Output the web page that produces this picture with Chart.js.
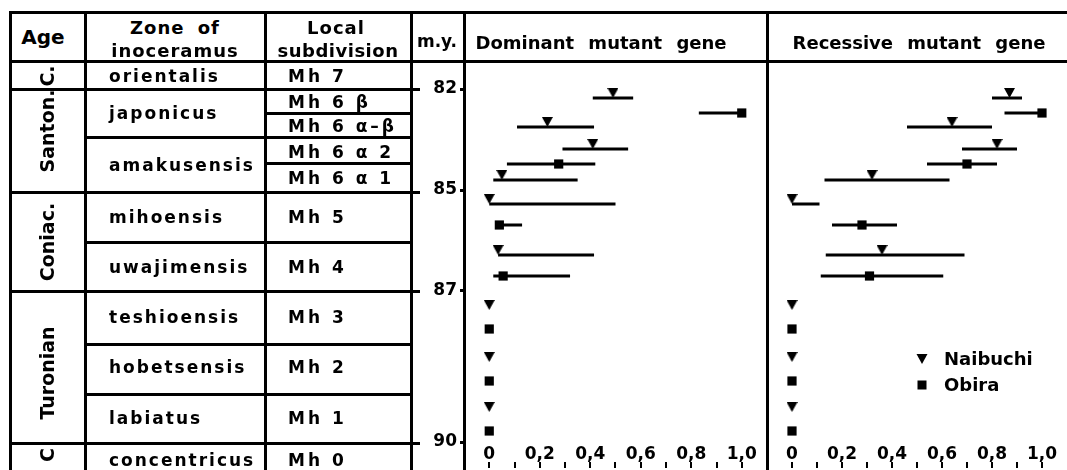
<!DOCTYPE html>
<html lang="en">
<head>
<meta charset="UTF-8" />
<title>Dominant and recessive mutant genes</title>
<script src="https://cdn.jsdelivr.net/npm/chart.js@4.4.0/dist/chart.umd.min.js"></script>
<style>
  body {
    margin: 0;
    width: 1067px;
    height: 470px;
    overflow: hidden;
    position: relative;
    background: #fff;
    color: #000;
    font-family: 'DejaVu Sans', sans-serif;
    font-weight: bold;
  }
  .ln { position: absolute; background: #000; }
  .tx { position: absolute; white-space: nowrap; font-size: 17px; line-height: 1; }
  .wrap { position: absolute; }
</style>
</head>
<body>
<div class="wrap" style="left:411px;top:62px;width:356px;height:408px">
  <canvas id="dominant" width="356" height="408"></canvas>
</div>
<div class="wrap" style="left:767px;top:62px;width:300px;height:408px">
  <canvas id="recessive" width="300" height="408"></canvas>
</div>
<script>
// stratigraphy column text
const ageNames = ['C.', 'Santon.', 'Coniac.', 'Turonian', 'C'];
const zoneNames = ['orientalis', 'japonicus', 'amakusensis', 'mihoensis', 'uwajimensis',
  'teshioensis', 'hobetsensis', 'labiatus', 'concentricus'];
const subdivisions = ['Mh 7', 'Mh 6 β', 'Mh 6 α–β', 'Mh 6 α 2', 'Mh 6 α 1', 'Mh 5',
  'Mh 4', 'Mh 3', 'Mh 2', 'Mh 1', 'Mh 0'];

// m.y. ticks and their level in the section (0 = top of column)
const myTicks = [82, 85, 87, 90];
const myTickLevel = [2.7, 12.8, 22.9, 38.0];

// sampled horizons
const naibuchiLevel = [3.6, 6.5, 8.7, 11.8, 14.2, 19.3, 24.8, 30.0, 35.0];
const obiraLevel = [5.1, 10.2, 16.3, 21.4, 26.7, 31.9, 36.9];

// dominant mutant gene frequency
const domNaibuchi = [0.49, 0.23, 0.41, 0.05, 0.0, 0.035, 0, 0, 0];
const domNaibuchiLo = [0.41, 0.11, 0.29, 0.016, 0.0, 0.035, null, null, null];
const domNaibuchiHi = [0.57, 0.415, 0.55, 0.35, 0.5, 0.415, null, null, null];
const domObira = [1.0, 0.275, 0.04, 0.055, 0, 0, 0];
const domObiraLo = [0.83, 0.07, 0.04, 0.016, null, null, null];
const domObiraHi = [1.0, 0.42, 0.13, 0.32, null, null, null];

// recessive mutant gene frequency
const recNaibuchi = [0.87, 0.64, 0.82, 0.32, 0.0, 0.36, 0, 0, 0];
const recNaibuchiLo = [0.8, 0.46, 0.68, 0.13, 0.0, 0.135, null, null, null];
const recNaibuchiHi = [0.92, 0.8, 0.9, 0.63, 0.11, 0.69, null, null, null];
const recObira = [1.0, 0.7, 0.28, 0.31, 0, 0, 0];
const recObiraLo = [0.85, 0.54, 0.16, 0.115, null, null, null];
const recObiraHi = [1.0, 0.82, 0.42, 0.605, null, null, null];

const freqTicks = [0, 0.2, 0.4, 0.6, 0.8, 1.0];

// ---- table frame (html) ----
const vLines = [[10, 12, 470], [85, 12, 470], [265, 12, 470], [411, 12, 470], [464, 12, 470], [767, 12, 470]];
const hLines = [[12, 10, 1067], [61, 10, 1067], [89, 10, 418], [192, 10, 418], [291, 10, 418], [443, 10, 418],
  [137, 85, 411], [242, 85, 411], [344, 85, 411], [394, 85, 411], [113, 265, 411], [163, 265, 411]];

function addDiv(cls, css, text) {
  const d = document.createElement('div')
  d.className = cls
  d.style.cssText = css
  if (text !== undefined) d.textContent = text
  document.body.appendChild(d)
}
vLines.forEach(([x, y0, y1]) => addDiv('ln', `left:${x - 1.5}px;top:${y0 - 1.5}px;width:3px;height:${y1 - y0 + 3}px`))
hLines.forEach(([y, x0, x1]) => addDiv('ln', `left:${x0 - 1.5}px;top:${y - 1.5}px;width:${x1 - x0 + 3}px;height:3px`))

const center = 'transform:translate(-50%,-50%)'
const leftMid = 'transform:translate(0,-50%)'
addDiv('tx', `left:43px;top:37px;${center};font-size:20px`, 'Age')
addDiv('tx', `left:175px;top:28px;${center};font-size:18px;letter-spacing:1px;word-spacing:6px`, 'Zone of')
addDiv('tx', `left:175px;top:51px;${center};font-size:18px;letter-spacing:1px`, 'inoceramus')
addDiv('tx', `left:336px;top:28px;${center};font-size:18px;letter-spacing:1px`, 'Local')
addDiv('tx', `left:338px;top:51px;${center};font-size:18px;letter-spacing:0.5px`, 'subdivision')
addDiv('tx', `left:437px;top:41px;${center};font-size:17px`, 'm.y.')
addDiv('tx', `left:601px;top:43px;${center};font-size:18px;word-spacing:8px`, 'Dominant mutant gene')
addDiv('tx', `left:919px;top:43px;${center};font-size:18px;word-spacing:8px`, 'Recessive mutant gene')

const ageY = [76, 131, 242, 373, 455]
ageNames.forEach((t, i) => addDiv('tx', `left:47px;top:${ageY[i]}px;transform:translate(-50%,-50%) rotate(-90deg);font-size:19px`, t))
const zoneY = [76, 113, 165, 217, 267, 317, 367, 418, 460]
zoneNames.forEach((t, i) => addDiv('tx', `left:109px;top:${zoneY[i]}px;${leftMid};letter-spacing:2px`, t))
const subY = [76, 102, 126, 152, 178, 217, 267, 317, 367, 418, 460]
subdivisions.forEach((t, i) => addDiv('tx', `left:288px;top:${subY[i]}px;${leftMid};letter-spacing:3px`, t))

// ---- charts ----
// down triangle whose apex sits on the point
function makeTriangle(w, h) {
  const c = document.createElement('canvas')
  c.width = w
  c.height = h * 2
  const g = c.getContext('2d')
  g.fillStyle = '#000'
  g.beginPath()
  g.moveTo(0, 0)
  g.lineTo(w, 0)
  g.lineTo(w / 2, h)
  g.closePath()
  g.fill()
  return c
}
const tri = makeTriangle(11, 10)

const points = (xs, ys) => xs.map((x, i) => ({ x, y: ys[i] }))
const bars = (lo, hi, ys) => {
  const out = []
  lo.forEach((l, i) => {
    if (l === null) return
    out.push({ x: l, y: ys[i] }, { x: hi[i], y: ys[i] }, { x: null, y: null })
  })
  return out
}

// no extra padding for overflowing tick labels
const noPad = (s) => {
  s.paddingTop = 0
  s.paddingBottom = 0
  s.paddingLeft = 0
  s.paddingRight = 0
}

const legendPlugin = {
  id: 'geneLegend',
  afterDatasetsDraw(chart, args, opts) {
    if (!opts.show) return
    const ctx = chart.ctx
    const x = chart.scales.x.getPixelForValue(opts.x)
    ctx.save()
    ctx.fillStyle = '#000'
    ctx.font = 'bold 18px "DejaVu Sans"'
    ctx.textBaseline = 'middle'
    opts.levels.forEach((lv, i) => {
      const y = chart.scales.y.getPixelForValue(lv)
      if (i === 0) {
        ctx.beginPath()
        ctx.moveTo(x - 5.5, y - 5)
        ctx.lineTo(x + 5.5, y - 5)
        ctx.lineTo(x, y + 5)
        ctx.closePath()
        ctx.fill()
      } else {
        ctx.fillRect(x - 4.5, y - 4.5, 9, 9)
      }
      ctx.fillText(chart.data.datasets[i].label, x + 22, y + 1)
    })
    ctx.restore()
  },
}

function makeChart(id, n, nLo, nHi, o, oLo, oHi, first) {
  return new Chart(document.getElementById(id), {
    type: 'scatter',
    data: {
      datasets: [
        { label: 'Naibuchi', data: points(n, naibuchiLevel), pointStyle: tri, pointRadius: 6, backgroundColor: '#000', borderColor: '#000' },
        { label: 'Obira', data: points(o, obiraLevel), pointStyle: 'rect', pointRadius: 6.5, backgroundColor: '#000', borderWidth: 0 },
        { label: 'Naibuchi range', data: bars(nLo, nHi, naibuchiLevel), showLine: true, spanGaps: false, pointRadius: 0, borderColor: '#000', borderWidth: 3 },
        { label: 'Obira range', data: bars(oLo, oHi, obiraLevel), showLine: true, spanGaps: false, pointRadius: 0, borderColor: '#000', borderWidth: 3 },
      ],
    },
    plugins: [legendPlugin],
    options: {
      responsive: false,
      animation: false,
      events: [],
      layout: { padding: 0, autoPadding: false },
      plugins: {
        legend: { display: false },
        tooltip: { enabled: false },
        geneLegend: { show: !first, x: 0.52, levels: [29.7, 32.3] },
      },
      scales: {
        x: {
          type: 'linear',
          position: 'bottom',
          min: -0.1,
          max: 1.1,
          weight: 0,
          afterBuildTicks: (s) => { s.ticks = freqTicks.map((v) => ({ value: v })) },
          afterFit: (s) => { s.height = 18; noPad(s) },
          ticks: {
            padding: 0,
            color: '#000',
            font: { family: 'DejaVu Sans', size: 17, weight: 'bold' },
            callback: (v) => (v === 0 ? '0' : v.toFixed(1).replace('.', ',')),
          },
          grid: { drawOnChartArea: false, drawTicks: false },
          border: { display: false },
        },
        x2: {
          type: 'linear',
          position: 'bottom',
          min: -0.1,
          max: 1.1,
          weight: 1,
          afterBuildTicks: (s) => { s.ticks = [0, 0.1, 0.2, 0.3, 0.4, 0.5, 0.6, 0.7, 0.8, 0.9, 1.0].map((v) => ({ value: v })) },
          afterFit: (s) => { s.height = 8; noPad(s) },
          ticks: { display: false },
          grid: { drawOnChartArea: false, drawTicks: true, tickLength: 6, color: '#000', lineWidth: 2 },
          border: { display: false },
        },
        y: {
          type: 'linear',
          display: first,
          reverse: true,
          min: 0,
          max: 38.2,
          afterBuildTicks: (s) => { s.ticks = myTickLevel.map((v) => ({ value: v })) },
          afterFit: (s) => { s.width = first ? 53 : 0; noPad(s) },
          ticks: {
            padding: 3,
            color: '#000',
            font: { family: 'DejaVu Sans', size: 17, weight: 'bold' },
            callback: (v, i) => String(myTicks[i]),
          },
          grid: { drawOnChartArea: false, drawTicks: true, tickLength: 4, color: '#000', lineWidth: 3 },
          border: { display: false },
        },
      },
    },
  })
}

makeChart('dominant', domNaibuchi, domNaibuchiLo, domNaibuchiHi, domObira, domObiraLo, domObiraHi, true)
makeChart('recessive', recNaibuchi, recNaibuchiLo, recNaibuchiHi, recObira, recObiraLo, recObiraHi, false)
</script>
</body>
</html>
